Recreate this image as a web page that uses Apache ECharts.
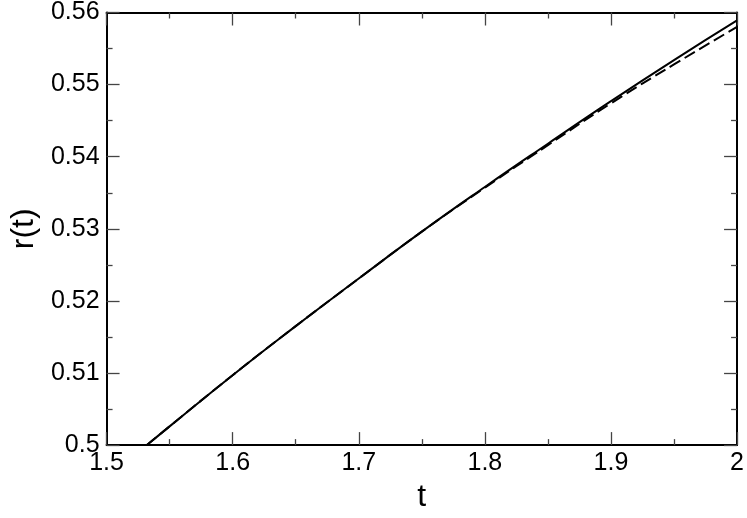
<!DOCTYPE html>
<html>
<head>
<meta charset="utf-8">
<script src="https://cdn.jsdelivr.net/npm/echarts@6/dist/echarts.min.js"></script>
<style>html,body{margin:0;padding:0;background:#fff;}#c{width:747px;height:518px;}</style>
</head>
<body>
<div id="c"></div>
<script>
const tValues = [1.532, 1.55, 1.6, 1.65, 1.7, 1.75, 1.8, 1.85, 1.9, 1.95, 2.0];
const solidR  = [0.5000, 0.5026, 0.5097, 0.5165, 0.5231, 0.5296, 0.5358, 0.5418, 0.5477, 0.5534, 0.5589];
const dashedR = [0.5000, 0.5026, 0.5097, 0.5165, 0.5231, 0.5296, 0.5357, 0.5416, 0.5474, 0.5528, 0.5580];
const xTicks = [1.5, 1.6, 1.7, 1.8, 1.9, 2.0];
const yTicks = [0.50, 0.51, 0.52, 0.53, 0.54, 0.55, 0.56];

const font = 'Liberation Sans, Arial, Helvetica, sans-serif';
const tickStyle = {show: true, inside: true, length: 13, lineStyle: {color: '#444', width: 1.3}};
const minorStyle = {show: true, splitNumber: 2, length: 6, lineStyle: {color: '#444', width: 1.3}};
const lineStyle = {show: true, onZero: false, lineStyle: {color: '#000', width: 2}};

function axisX(pos, showLabel) {
  return {
    type: 'value', position: pos, min: xTicks[0], max: xTicks[xTicks.length-1], interval: 0.1,
    axisLine: lineStyle, axisTick: tickStyle, minorTick: minorStyle, splitLine: {show: false},
    axisLabel: {show: showLabel, color: '#000', fontSize: 25, fontFamily: font, margin: 6},
    name: showLabel ? 't' : '', nameLocation: 'middle', nameGap: 27,
    nameTextStyle: {color: '#000', fontSize: 32, fontFamily: font}
  };
}
function axisY(pos, showLabel) {
  return {
    type: 'value', position: pos, min: yTicks[0], max: yTicks[yTicks.length-1], interval: 0.01,
    axisLine: lineStyle, axisTick: tickStyle, minorTick: minorStyle, splitLine: {show: false},
    axisLabel: {show: showLabel, color: '#000', fontSize: 25, fontFamily: font, margin: 7},
    name: showLabel ? 'r(t)' : '', nameLocation: 'middle', nameGap: 65,
    nameTextStyle: {color: '#000', fontSize: 32, fontFamily: font}
  };
}

const chart = echarts.init(document.getElementById('c'), null, {renderer: 'canvas'});
chart.setOption({
  animation: false,
  backgroundColor: '#fff',
  grid: {left: 99, right: 8, top: 11, bottom: 59, containLabel: false},
  xAxis: [axisX('bottom', true), axisX('top', false)],
  yAxis: [axisY('left', true), axisY('right', false)],
  series: [
    {type: 'line', data: tValues.map((t, i) => [t, dashedR[i]]), showSymbol: false, smooth: true, clip: true,
     lineStyle: {color: '#000', width: 2, type: [12, 5]}},
    {type: 'line', data: tValues.map((t, i) => [t, solidR[i]]), showSymbol: false, smooth: true, clip: true,
     lineStyle: {color: '#000', width: 2}}
  ]
});
</script>
</body>
</html>
